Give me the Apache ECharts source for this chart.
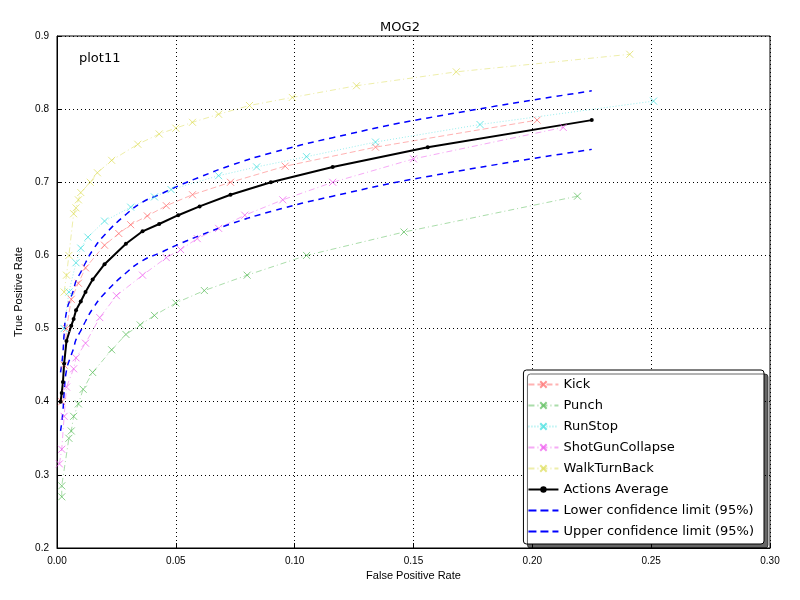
<!DOCTYPE html>
<html><head><meta charset="utf-8">
<script src="https://cdn.jsdelivr.net/npm/echarts@6/dist/echarts.min.js"></script>
<style>body{margin:0;background:#fff}#c{width:800px;height:600px}</style>
</head><body><div id="c"></div>
<script>
var kick = [[0.002,0.40],[0.003,0.45],[0.004,0.50],[0.006,0.54],[0.009,0.562],[0.012,0.583],[0.020,0.614],[0.026,0.630],[0.031,0.642],[0.038,0.654],[0.046,0.668],[0.057,0.683],[0.073,0.700],[0.096,0.722],[0.134,0.748],[0.202,0.785]];
var punch = [[0.002,0.27],[0.002,0.285],[0.005,0.35],[0.006,0.36],[0.007,0.38],[0.009,0.397],[0.011,0.417],[0.015,0.44],[0.023,0.471],[0.029,0.492],[0.035,0.505],[0.041,0.518],[0.050,0.535],[0.062,0.552],[0.080,0.573],[0.105,0.600],[0.146,0.632],[0.219,0.681]];
var runStop = [[0.003,0.50],[0.005,0.55],[0.008,0.59],[0.010,0.610],[0.013,0.625],[0.020,0.647],[0.031,0.666],[0.041,0.680],[0.048,0.690],[0.068,0.709],[0.084,0.721],[0.105,0.735],[0.134,0.755],[0.178,0.779],[0.251,0.811]];
var shotGun = [[0.001,0.315],[0.002,0.335],[0.003,0.38],[0.004,0.42],[0.007,0.445],[0.008,0.46],[0.012,0.48],[0.018,0.515],[0.025,0.545],[0.036,0.573],[0.046,0.597],[0.052,0.608],[0.059,0.623],[0.068,0.637],[0.079,0.655],[0.095,0.676],[0.116,0.700],[0.150,0.732],[0.213,0.775]];
var walkTurn = [[0.003,0.55],[0.004,0.573],[0.005,0.60],[0.007,0.657],[0.008,0.665],[0.009,0.676],[0.010,0.686],[0.014,0.700],[0.017,0.713],[0.023,0.730],[0.034,0.752],[0.043,0.766],[0.050,0.774],[0.057,0.782],[0.068,0.793],[0.081,0.805],[0.099,0.816],[0.126,0.832],[0.168,0.851],[0.241,0.875]];
var average = [[0.0015,0.400],[0.002,0.412],[0.0025,0.427],[0.003,0.452],[0.004,0.483],[0.006,0.504],[0.007,0.513],[0.008,0.525],[0.010,0.537],[0.012,0.550],[0.015,0.567],[0.020,0.588],[0.029,0.616],[0.036,0.633],[0.043,0.643],[0.051,0.655],[0.060,0.667],[0.073,0.683],[0.090,0.700],[0.116,0.721],[0.156,0.748],[0.225,0.785]];
var lower = [[0.0015,0.360],[0.002,0.372],[0.0025,0.387],[0.003,0.412],[0.004,0.443],[0.006,0.464],[0.007,0.473],[0.008,0.485],[0.010,0.497],[0.012,0.510],[0.015,0.527],[0.020,0.548],[0.029,0.576],[0.036,0.593],[0.043,0.603],[0.051,0.615],[0.060,0.627],[0.073,0.643],[0.090,0.660],[0.116,0.681],[0.156,0.708],[0.225,0.745]];
var upper = [[0.0015,0.440],[0.002,0.452],[0.0025,0.467],[0.003,0.492],[0.004,0.523],[0.006,0.544],[0.007,0.553],[0.008,0.565],[0.010,0.577],[0.012,0.590],[0.015,0.607],[0.020,0.628],[0.029,0.656],[0.036,0.673],[0.043,0.683],[0.051,0.695],[0.060,0.707],[0.073,0.723],[0.090,0.740],[0.116,0.761],[0.156,0.788],[0.225,0.825]];

function faint(name, data, color, dash) {
  return {name: name, type: 'line', data: data, symbol: 'path://M0,0L10,10M10,0L0,10', symbolSize: 7,
    lineStyle: {color: color, width: 1, type: dash, opacity: 0.5},
    itemStyle: {color: 'none', borderColor: color, borderWidth: 1, opacity: 0.7}};
}
var dashIcon = 'path://M0,0H8V2H0ZM12,0H20V2H12ZM24,0H30V2H24Z';
var option = {
  animation: false,
  title: {text: 'MOG2', left: 'center', top: 16, textStyle: {fontSize: 13, fontWeight: 'normal', color: '#000', fontFamily: 'DejaVu Sans'}},
  grid: {left: 57, right: 30, top: 36, bottom: 52, show: true, borderColor: '#000', borderWidth: 1},
  xAxis: {type: 'value', min: 0, max: 0.3, interval: 0.05, name: 'False Positive Rate', nameLocation: 'middle', nameGap: 22,
    nameTextStyle: {fontSize: 11, color: '#000'},
    axisLabel: {fontSize: 10, color: '#000', formatter: function (v) { return v.toFixed(2); }},
    axisTick: {inside: true, lineStyle: {color: '#000'}}, axisLine: {lineStyle: {color: '#000'}},
    splitLine: {lineStyle: {color: '#000', type: [1, 3]}}},
  yAxis: {type: 'value', min: 0.2, max: 0.9, interval: 0.1, name: 'True Positive Rate', nameLocation: 'middle', nameGap: 33,
    nameTextStyle: {fontSize: 11, color: '#000'},
    axisLabel: {fontSize: 10, color: '#000', formatter: function (v) { return v.toFixed(1); }},
    axisTick: {inside: true, lineStyle: {color: '#000'}}, axisLine: {lineStyle: {color: '#000'}},
    splitLine: {lineStyle: {color: '#000', type: [1, 3]}}},
  legend: {orient: 'vertical', right: 36, bottom: 56, itemWidth: 30, itemHeight: 8, itemGap: 8,
    backgroundColor: '#fff', borderColor: '#000', borderWidth: 1, borderRadius: 3, padding: [8, 10, 6, 4],
    shadowColor: 'rgba(0,0,0,0.6)', shadowOffsetX: 4, shadowOffsetY: 4, shadowBlur: 0,
    textStyle: {fontSize: 13, color: '#000', fontFamily: 'DejaVu Sans'},
    data: ['Kick', 'Punch', 'RunStop', 'ShotGunCollapse', 'WalkTurnBack', 'Actions Average',
      {name: 'Lower confidence limit (95%)', icon: dashIcon, itemStyle: {color: '#0000ff', borderWidth: 0}},
      {name: 'Upper confidence limit (95%)', icon: dashIcon, itemStyle: {color: '#0000ff', borderWidth: 0}}]},
  series: [
    faint('Kick', kick, '#ff6666', [6, 3]),
    faint('Punch', punch, '#55bb55', [6, 3, 1, 3]),
    faint('RunStop', runStop, '#33dddd', [1, 2]),
    faint('ShotGunCollapse', shotGun, '#ee55ee', [6, 3, 1, 3]),
    faint('WalkTurnBack', walkTurn, '#dddd55', [6, 3, 1, 3]),
    {name: 'Actions Average', type: 'line', data: average, symbol: 'circle', symbolSize: 4,
      lineStyle: {color: '#000', width: 2}, itemStyle: {color: '#000'}},
    {name: 'Lower confidence limit (95%)', type: 'line', data: lower, smooth: true, showSymbol: false, symbol: 'none',
      lineStyle: {color: '#0000ff', width: 1.5, type: [6, 5]}, itemStyle: {color: '#0000ff'}},
    {name: 'Upper confidence limit (95%)', type: 'line', data: upper, smooth: true, showSymbol: false, symbol: 'none',
      lineStyle: {color: '#0000ff', width: 1.5, type: [6, 5]}, itemStyle: {color: '#0000ff'}}
  ],
  graphic: [{type: 'text', left: 79, top: 52, style: {text: 'plot11', fontSize: 13, fill: '#000', fontFamily: 'DejaVu Sans'}}]
};
echarts.init(document.getElementById('c')).setOption(option);
</script></body></html>
